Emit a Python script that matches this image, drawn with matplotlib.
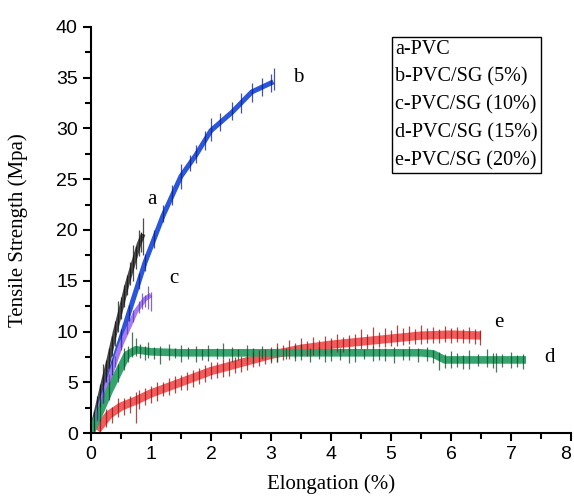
import matplotlib
matplotlib.use('Agg')
import matplotlib.pyplot as plt
from matplotlib.lines import Line2D

# smoothed centre lines
a_x = [0, 0.1, 0.2, 0.3, 0.4, 0.5, 0.6, 0.7, 0.8, 0.87]
a_y = [0, 2.4, 4.9, 7.3, 9.9, 12.2, 14.6, 16.6, 18.6, 19.6]

b_x = [0, 0.35, 0.63, 0.9, 1.2, 1.5, 1.75, 2.0, 2.35, 2.68, 3.04]
b_y = [0, 6.5, 11.8, 16.8, 21.4, 25.3, 27.4, 29.8, 31.6, 33.6, 34.6]

c_x = [0, 0.25, 0.5, 0.75, 0.9, 1.0]
c_y = [0, 4.4, 8.7, 12.0, 13.2, 13.6]

d_x = [0, 0.3, 0.6, 0.75, 1.0, 1.5, 2.0, 2.5, 3.0, 3.5, 4.0, 4.5, 5.0, 5.5, 5.7, 5.9, 6.5, 7.25]
d_y = [0, 4.1, 7.7, 8.2, 8.0, 7.9, 7.9, 7.9, 7.9, 7.9, 7.9, 7.9, 7.9, 7.9, 7.8, 7.2, 7.2, 7.2]

e_x = [0.1, 0.3, 0.5, 0.75, 1.0, 1.5, 2.0, 2.5, 3.0, 3.5, 4.0, 4.5, 5.0, 5.5, 6.0, 6.5]
e_y = [0.3, 1.8, 2.6, 3.2, 3.9, 5.0, 6.1, 6.9, 7.7, 8.3, 8.7, 9.0, 9.3, 9.6, 9.7, 9.6]

# noise spikes seen on each curve: x, low end, high end
a_sx = [0.05, 0.1, 0.15, 0.2, 0.25, 0.3, 0.35, 0.4, 0.45, 0.5, 0.55, 0.6, 0.65, 0.7, 0.75, 0.8, 0.84, 0.87]
a_lo = [0.2, 1.4, 2.6, 3.5, 5.0, 6.4, 7.6, 8.6, 10.0, 11.2, 12.4, 13.6, 14.6, 15.0, 16.2, 17.4, 17.8, 17.5]
a_hi = [2.2, 3.6, 4.8, 6.8, 7.2, 8.4, 9.6, 11.0, 13.0, 13.4, 14.6, 15.6, 16.8, 18.5, 18.4, 20.0, 19.8, 21.2]

b_sx = [0.2, 0.35, 0.5, 0.63, 0.8, 0.9, 1.05, 1.2, 1.35, 1.5, 1.65, 1.75, 1.9, 2.0,
        2.15, 2.35, 2.5, 2.68, 2.85, 3.0, 3.05]
b_lo = [3.0, 5.7, 8.5, 11.0, 14.2, 16.0, 18.2, 20.8, 22.5, 24.0, 25.8, 26.6, 27.9, 28.8,
        29.8, 30.8, 31.5, 32.6, 33.2, 33.6, 33.8]
b_hi = [4.4, 7.3, 10.2, 12.6, 15.8, 17.6, 20.0, 22.5, 24.4, 26.5, 27.4, 28.4, 29.8, 31.0,
        31.5, 32.6, 33.5, 34.5, 35.0, 35.4, 36.0]

c_sx = [0.1, 0.2, 0.3, 0.4, 0.5, 0.6, 0.7, 0.8, 0.85, 0.9, 0.95, 1.0]
c_lo = [1.2, 3.0, 4.8, 6.5, 8.2, 9.8, 10.9, 11.8, 12.2, 12.4, 12.2, 12.0]
c_hi = [2.2, 4.0, 5.8, 7.6, 9.3, 11.2, 12.1, 13.0, 13.8, 13.6, 14.5, 13.9]

d_sx = [0.15, 0.3, 0.45, 0.55, 0.62, 0.68, 0.75, 0.82, 0.9, 0.95, 1.05, 1.15, 1.3, 1.4,
        1.5, 1.62, 1.75, 1.85, 1.95, 2.1, 2.2, 2.35, 2.45, 2.6, 2.7, 2.85, 3.0, 3.1,
        3.25, 3.4, 3.5, 3.65, 3.8, 3.9, 4.0, 4.15, 4.3, 4.4, 4.55, 4.7, 4.8, 4.9,
        5.05, 5.2, 5.3, 5.45, 5.6, 5.7, 5.8, 5.9, 6.0, 6.1, 6.2, 6.3, 6.45, 6.6,
        6.7, 6.75, 6.85, 7.0, 7.1, 7.2]
d_lo = [1.2, 3.3, 5.0, 6.2, 7.0, 7.5, 7.6, 7.4, 7.2, 7.4, 7.3, 6.8, 7.2, 7.4,
        7.0, 7.3, 7.0, 7.2, 7.1, 7.3, 7.3, 7.0, 7.2, 7.2, 6.9, 7.3, 7.1, 7.0,
        7.3, 7.1, 7.2, 7.0, 7.3, 7.0, 7.1, 7.2, 6.9, 7.0, 7.3, 7.1, 7.2, 7.1,
        6.9, 7.2, 7.2, 7.0, 7.1, 6.9, 6.2, 6.4, 6.4, 6.5, 6.3, 6.3, 6.6, 6.5,
        6.4, 6.0, 6.5, 6.4, 6.5, 6.3]
d_hi = [2.8, 5.0, 6.8, 8.4, 8.6, 10.0, 9.4, 8.8, 8.6, 9.0, 8.5, 8.6, 8.8, 8.4,
        8.7, 8.5, 8.6, 8.3, 8.7, 8.4, 8.9, 8.5, 8.3, 8.7, 8.4, 8.6, 8.3, 8.5,
        8.4, 8.7, 8.8, 8.4, 8.5, 8.3, 8.6, 8.4, 8.5, 8.5, 8.3, 8.6, 8.4, 8.4,
        8.5, 8.3, 8.6, 8.4, 8.5, 8.2, 8.0, 7.8, 8.1, 7.9, 7.7, 8.2, 7.8, 8.3,
        7.9, 7.9, 7.8, 8.0, 7.7, 7.8]

e_sx = [0.15, 0.25, 0.35, 0.45, 0.55, 0.65, 0.75, 0.8, 0.9, 1.0, 1.1, 1.2, 1.3, 1.4,
        1.5, 1.6, 1.7, 1.8, 1.9, 2.0, 2.1, 2.2, 2.3, 2.4, 2.5, 2.6, 2.7, 2.8, 2.9,
        3.0, 3.1, 3.2, 3.3, 3.4, 3.5, 3.6, 3.7, 3.8, 3.9, 4.0, 4.1, 4.2, 4.3, 4.4,
        4.5, 4.6, 4.7, 4.8, 4.9, 5.0, 5.1, 5.2, 5.3, 5.4, 5.5, 5.6, 5.7, 5.8, 5.9,
        6.0, 6.1, 6.2, 6.3, 6.4, 6.48]
e_lo = [0.1, 0.6, 1.0, 1.6, 1.8, 2.0, 1.0, 2.4, 2.8, 3.0, 3.2, 3.6, 3.7, 3.9,
        4.2, 4.2, 4.5, 4.8, 5.0, 5.3, 5.4, 5.5, 5.6, 5.9, 6.0, 6.2, 6.5, 6.6, 6.8,
        6.9, 7.0, 7.2, 7.3, 7.4, 7.6, 7.6, 7.7, 7.8, 7.8, 7.9, 8.0, 8.0, 8.1, 8.2,
        8.3, 8.3, 8.4, 8.5, 8.5, 8.6, 8.6, 8.7, 8.8, 8.8, 8.8, 8.9, 8.9, 8.9, 9.0,
        8.9, 9.0, 8.9, 8.9, 8.8, 8.7]
e_hi = [1.4, 2.4, 2.6, 3.4, 3.4, 3.6, 4.0, 4.2, 4.4, 4.6, 5.0, 5.0, 5.4, 5.6,
        5.7, 6.0, 6.2, 6.4, 6.7, 7.0, 7.0, 7.3, 7.4, 7.5, 7.6, 7.8, 8.0, 8.2, 8.3,
        8.5, 8.9, 8.7, 9.2, 8.9, 9.4, 9.1, 9.5, 9.2, 9.6, 9.4, 9.8, 9.5, 9.7, 9.8,
        10.2, 9.8, 10.4, 10.0, 10.3, 10.1, 10.6, 10.3, 10.5, 10.2, 10.6, 10.3, 10.4, 10.2, 10.5,
        10.3, 10.4, 10.2, 10.4, 10.2, 10.1]

curve_labels = ['a-PVC', 'b-PVC/SG (5%)', 'c-PVC/SG (10%)', 'd-PVC/SG (15%)', 'e-PVC/SG (20%)']

fig = plt.figure(figsize=(5.74, 4.98), dpi=100)
ax = fig.add_axes([91 / 574, 65 / 498, 480 / 574, 406 / 498])

curves = [
    (a_x, a_y, a_sx, a_lo, a_hi, '#4a4a4a', '#111111', 3.4),
    (b_x, b_y, b_sx, b_lo, b_hi, '#2a55dd', '#0a1a80', 3.6),
    (c_x, c_y, c_sx, c_lo, c_hi, '#a77cf2', '#5a35b0', 3.4),
    (d_x, d_y, d_sx, d_lo, d_hi, '#35a46e', '#0c4a24', 5.5),
    (e_x, e_y, e_sx, e_lo, e_hi, '#f25c5c', '#8a1010', 6.0),
]
# e before d so the green sits on top where they overlap
for i in [0, 1, 2, 4, 3]:
    x, y, sx, lo, hi, light, dark, lw = curves[i]
    ax.plot(x, y, color=light, lw=lw, solid_capstyle='butt', zorder=2)
    ax.vlines(sx, lo, hi, color=dark, lw=0.9, alpha=0.75, zorder=3)

# letter labels next to the curves
serif = 'Liberation Serif'
ax.text(0.93, 22.6, 'a', fontsize=15, family=serif)
ax.text(3.37, 34.6, 'b', fontsize=15, family=serif)
ax.text(1.3, 14.8, 'c', fontsize=15, family=serif)
ax.text(7.55, 7.0, 'd', fontsize=15, family=serif)
ax.text(6.72, 10.4, 'e', fontsize=15, family=serif)

handles = [Line2D([], [], linestyle='none') for _ in curve_labels]
leg = ax.legend(handles, curve_labels, loc='upper left', bbox_to_anchor=(0.627, 0.975),
                borderaxespad=0, handlelength=0, handletextpad=0, borderpad=0.15,
                labelspacing=0.42, fancybox=False, framealpha=1, edgecolor='black',
                prop={'family': serif, 'size': 14.5})
leg.get_frame().set_linewidth(1.0)

ax.set_xlim(0, 8)
ax.set_ylim(0, 40)
ax.set_xticks(range(0, 9))
ax.set_yticks(range(0, 41, 5))
ax.set_xticks([i + 0.5 for i in range(8)], minor=True)
ax.set_yticks([i * 5 + 2.5 for i in range(8)], minor=True)
ax.spines['top'].set_visible(False)
ax.spines['right'].set_visible(False)
for s in ['left', 'bottom']:
    ax.spines[s].set_linewidth(1.5)
ax.tick_params(which='major', length=6, width=1.5, labelsize=14, direction='out')
ax.tick_params(which='minor', length=4, width=1.5, direction='out')
for t in ax.get_xticklabels() + ax.get_yticklabels():
    t.set_family('Liberation Sans')
ax.get_xticklabels()[-1].set_ha('right')

ax.set_xlabel('Elongation (%)', family=serif, fontsize=15, labelpad=8)
ax.set_ylabel('Tensile Strength (Mpa)', family=serif, fontsize=15, labelpad=20)

fig.savefig('out.png', dpi=100)
